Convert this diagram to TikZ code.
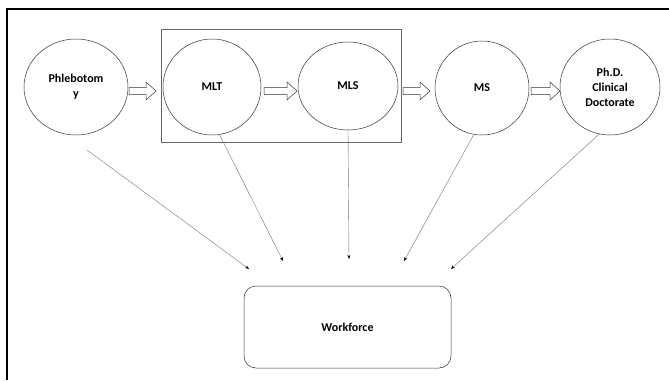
\documentclass[tikz,border=0pt]{standalone}
\usepackage{fontspec}
\setmainfont{Carlito}
\usetikzlibrary{shapes.geometric,arrows.meta}
\begin{document}
\begin{tikzpicture}[x=1pt,y=-1pt,
  lbl/.style={font=\bfseries\fontsize{12}{15}\selectfont, align=center},
  circ/.style={draw=black!80, line width=0.5pt, ellipse, inner sep=0pt, lbl},
  blockarrow/.style={draw=black!80, line width=0.5pt, fill=white},
  feed/.style={draw=black!55, line width=0.4pt, -{Stealth[length=4pt,width=3pt,black]}}]
\useasboundingbox (0,0) rectangle (669,380);
% outer frame (left and top edges visible)
\draw[line width=2.5pt] (7,380) -- (7,9) -- (669,9);
% inner group box
\draw[draw=black!60, line width=0.6pt] (161,29) rectangle (401,142);
% circles
\node[circ, minimum width=104pt, minimum height=96pt] (phleb) at (76,87) {Phlebotom\\y};
\node[circ, minimum width=98pt, minimum height=96pt] (mlt) at (212,87) {MLT};
\node[circ, minimum width=100pt, minimum height=88pt] (mls) at (348,86) {MLS};
\node[circ, minimum width=94pt, minimum height=94pt] (ms) at (482,88) {MS};
\node[circ, minimum width=100pt, minimum height=96pt] (phd) at (610,87) {Ph.D.\\Clinical\\Doctorate};
% block arrows
\foreach \a/\b in {129/156, 264/297, 403/430, 531/560}{
  \draw[blockarrow] (\a,87.5) -- (\b-10,87.5) -- (\b-10,82) -- (\b,91) -- (\b-10,100) -- (\b-10,94.5) -- (\a,94.5) -- cycle;
}
% workforce box
\node[draw=black!80, line width=0.5pt, rounded corners=12pt, minimum width=207pt, minimum height=82pt, lbl] (work) at (347.5,327) {Workforce};
% feed coordinates
\coordinate (e1) at (249,269);
\coordinate (e2) at (283,261);
\coordinate (e3) at (349,259);
\coordinate (e4) at (404,261);
\coordinate (e5) at (451,269);
\coordinate (s1) at (87,150);
\draw[feed] (s1) -- (e1);
\draw[feed] (mlt.-81) -- (e2);
\draw[feed] (mls.south) -- (e3);
\draw[feed] (ms.-100) -- (e4);
\draw[feed] (phd.-103) -- (e5);
\end{tikzpicture}
\end{document}
